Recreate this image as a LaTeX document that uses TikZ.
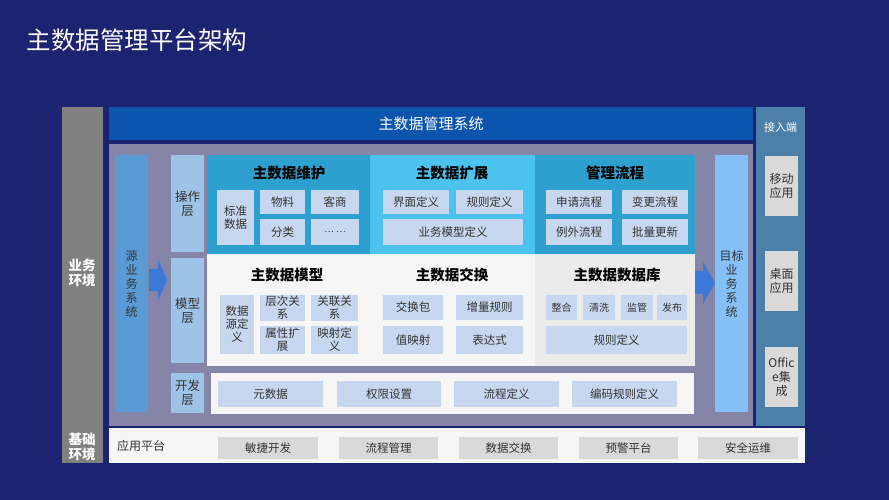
\documentclass[tikz,border=0pt]{standalone}
\usepackage{fontspec}
\setmainfont{Noto Sans CJK SC}
\definecolor{bgc}{HTML}{1C2371}
\definecolor{grayc}{HTML}{808080}
\definecolor{topbarc}{HTML}{0B55AE}
\definecolor{midc}{HTML}{8585A8}
\definecolor{srcc}{HTML}{5B9BD5}
\definecolor{layc}{HTML}{9DC3E6}
\definecolor{secA}{HTML}{2EA0D0}
\definecolor{secB}{HTML}{4CC3EE}
\definecolor{boxc}{HTML}{C7D7EF}
\definecolor{whc}{HTML}{F6F6F6}
\definecolor{wh2}{HTML}{EBEBEB}
\definecolor{tgtc}{HTML}{85C0F8}
\definecolor{rightc}{HTML}{4A80AA}
\definecolor{gboxc}{HTML}{D9D9D9}
\definecolor{arrc}{HTML}{3C78D8}
\definecolor{txtc}{HTML}{333333}
\newcommand{\R}[6]{\node[#1, minimum width={#4-#2}, minimum height={#5-#3}] (#6) at ({(#2+#4)/2},{(#3+#5)/2})}
\tikzset{
  base/.style={inner sep=0pt, outer sep=0pt, align=center, draw=none},
  bx/.style={base, fill=boxc, text=txtc, font=\fontsize{11.5}{13}\selectfont},
  gbx/.style={base, fill=gboxc, text=txtc, font=\fontsize{11.5}{13}\selectfont},
  area/.style={base, fill=#1},
  lay/.style={base, fill=layc, text=txtc, font=\fontsize{12.5}{14}\selectfont},
  sect/.style={base, text=black, font=\bfseries\fontsize{14.5}{17}\selectfont},
  envt/.style={base, text=white, font=\bfseries\fontsize{13.5}{15}\selectfont},
}
\begin{document}
\begin{tikzpicture}[x=1pt,y=-1pt]
\useasboundingbox (0,0) rectangle (889,500);
\fill[bgc] (0,0) rectangle (889,500);
\node[base, anchor=west, text=white, font=\fontsize{24.5}{26}\selectfont] (title) at (27,40) {主数据管理平台架构};
% left environment column
\R{area=grayc}{62}{107}{103}{463}{envcol} {};
\node[envt] (ywhj) at (82,273) {业务\\环境};
\node[envt] (jchj) at (82,447) {基础\\环境};
% top bar and middle area
\R{area=topbarc, text=white, font=\fontsize{15}{17}\selectfont}{109}{107}{753}{140}{sys} {主数据管理系统};
\R{area=midc}{109}{144}{753}{426}{mid} {};
% source / target columns
\R{area=srcc, text=txtc, font=\fontsize{12}{14}\selectfont}{115}{155}{148}{412}{src} {源\\业\\务\\系\\统};
\R{area=tgtc, text=txtc, font=\fontsize{12}{14}\selectfont}{715}{155}{748}{412}{tgt} {目标\\业\\务\\系\\统};
% layer labels
\R{lay}{171}{155}{204}{252}{lop} {操作\\层};
\R{lay}{171}{258}{204}{363}{lmo} {模型\\层};
\R{lay}{171}{373}{204}{413}{ldev} {开发\\层};
% section backgrounds
\R{area=secA}{207}{155}{370}{254}{sA} {};
\R{area=secB}{370}{155}{535}{254}{sB} {};
\R{area=secA}{535}{155}{695}{254}{sC} {};
\R{area=whc}{207}{254}{535}{366}{sD} {};
\R{area=wh2}{535}{254}{695}{366}{sE} {};
\R{area=whc}{211}{373}{694}{414}{sF} {};
% section titles
\node[sect] (tA) at (289,173) {主数据维护};
\node[sect] (tB) at (452,173) {主数据扩展};
\node[sect] (tC) at (615,173) {管理流程};
\node[sect] (tD) at (287,275) {主数据模型};
\node[sect] (tE) at (452,275) {主数据交换};
\node[sect] (tF) at (617,275) {主数据数据库};
% 主数据维护
\R{bx}{217}{190}{254}{245}{bzsj} {标准\\数据};
\R{bx}{260}{190}{305}{214}{wl} {物料};
\R{bx}{311}{190}{359}{214}{ks} {客商};
\R{bx}{260}{219}{305}{245}{fl} {分类};
\R{bx, font=\fontsize{9}{11}\selectfont}{311}{219}{359}{245}{dots} {… …};
% 主数据扩展
\R{bx}{383}{190}{449}{214}{jmdy} {界面定义};
\R{bx}{456}{190}{523}{214}{gzdy} {规则定义};
\R{bx}{383}{219}{523}{245}{ywmx} {业务模型定义};
% 管理流程
\R{bx}{546}{190}{612}{214}{sqlc} {申请流程};
\R{bx}{622}{190}{688}{214}{bglc} {变更流程};
\R{bx}{546}{219}{612}{245}{lwlc} {例外流程};
\R{bx}{622}{219}{688}{245}{plgx} {批量更新};
% 主数据模型
\R{bx}{220}{295}{254}{354}{sjydy} {数据\\源定\\义};
\R{bx}{260}{295}{305}{321}{ccgx} {层次关\\系};
\R{bx}{311}{295}{358}{321}{glgx} {关联关\\系};
\R{bx}{260}{326}{305}{354}{sxkz} {属性扩\\展};
\R{bx}{311}{326}{358}{354}{ysdy} {映射定\\义};
% 主数据交换
\R{bx}{383}{295}{443}{320}{jhb} {交换包};
\R{bx}{456}{295}{523}{320}{zlgz} {增量规则};
\R{bx}{383}{326}{443}{354}{zys} {值映射};
\R{bx}{456}{326}{523}{354}{bds} {表达式};
% 主数据数据库
\R{bx, font=\fontsize{10}{12}\selectfont}{546}{295}{577}{320}{zh} {整合};
\R{bx, font=\fontsize{10}{12}\selectfont}{583}{295}{615}{320}{qx} {清洗};
\R{bx, font=\fontsize{10}{12}\selectfont}{621}{295}{653}{320}{jg} {监管};
\R{bx, font=\fontsize{10}{12}\selectfont}{657}{295}{687}{320}{fb} {发布};
\R{bx}{546}{326}{687}{354}{gzdy2} {规则定义};
% 开发层
\R{bx}{218}{381}{323}{407}{ysj} {元数据};
\R{bx}{337}{381}{441}{407}{qxsz} {权限设置};
\R{bx}{454}{381}{559}{407}{lcdy} {流程定义};
\R{bx}{572}{381}{677}{407}{bmgz} {编码规则定义};
% arrows
\fill[arrc] (149,269) -- (158,269) -- (158,259) -- (167,280) -- (158,301) -- (158,291) -- (149,291) -- cycle;
\fill[arrc] (695,271) -- (703,271) -- (703,262) -- (715,283) -- (703,304) -- (703,294) -- (695,294) -- cycle;
% right access column
\R{area=rightc}{756}{107}{805}{426}{acc} {};
\node[base, text=white, font=\fontsize{11}{13}\selectfont] (jrd) at (780.5,127) {接入端};
\R{gbx, font=\fontsize{12}{14}\selectfont}{765}{156}{798}{216}{yd} {移动\\应用};
\R{gbx, font=\fontsize{12}{14}\selectfont}{765}{251}{798}{311}{zm} {桌面\\应用};
\R{gbx, font=\fontsize{12}{14}\selectfont}{765}{347}{798}{407}{off} {Offic\\e集\\成};
% bottom platform bar
\R{area=whc}{109}{428}{805}{463}{plat} {};
\node[base, anchor=west, text=txtc, font=\fontsize{12}{14}\selectfont] (yypt) at (117,446) {应用平台};
\R{gbx}{218}{437}{318}{459}{mjkf} {敏捷开发};
\R{gbx}{339}{437}{438}{459}{lcgl} {流程管理};
\R{gbx}{459}{437}{558}{459}{sjjh} {数据交换};
\R{gbx}{579}{437}{678}{459}{yjpt} {预警平台};
\R{gbx}{698}{437}{798}{459}{aqyw} {安全运维};
\end{tikzpicture}
\end{document}
